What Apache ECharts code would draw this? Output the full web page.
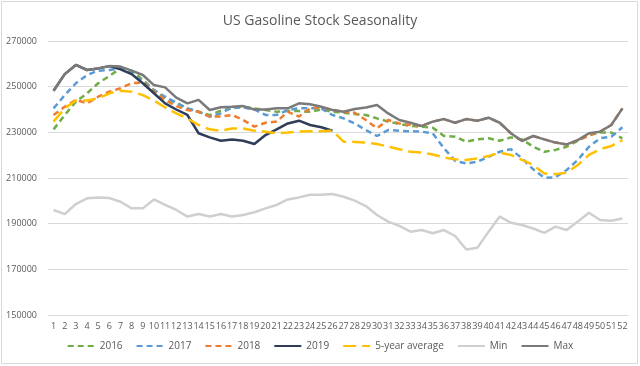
<!DOCTYPE html>
<html>
<head>
<meta charset="utf-8">
<script src="https://cdn.jsdelivr.net/npm/echarts@6/dist/echarts.min.js"></script>
<style>html,body{margin:0;padding:0;background:#fff;}#c{width:640px;height:366px;}</style>
</head>
<body>
<div id="c"></div>
<script>
const weeks = Array.from({length: 52}, (_, i) => String(i + 1));
const yTicks = [150000, 170000, 190000, 210000, 230000, 250000, 270000];

const y2016 = [231300,237600,243400,247100,251500,254700,258000,257000,253000,248500,245000,243000,240500,239000,237500,239500,240500,241200,240500,239800,239000,239300,239300,239000,240000,239000,238600,238000,237600,236100,234700,233600,232800,232500,232000,228400,228100,225900,226900,227400,226300,227800,226900,223700,221500,222300,223700,226300,228800,229900,229900,227400];
const y2017 = [240500,246300,251500,255100,257000,257300,258000,255800,252200,248500,245600,243000,240500,239000,236900,238300,240900,240900,240000,237600,237600,239800,240500,240500,240500,237600,236100,233900,231000,228400,231000,230700,230500,230300,229500,223000,217500,216400,217100,219300,221500,222600,218600,213800,210100,210300,213500,217900,223700,227400,228100,232200];
const y2018 = [237600,241200,244200,242700,245600,247800,249300,251500,251800,247800,244200,241500,239800,239000,236900,236900,237600,235400,232500,234200,234700,239000,236900,240500,240900,239800,239000,238600,235400,231800,235400,233900,233200,232800,234700,235800,234200,235800,235100,236400,234200,229600,226200,228400,226900,225500,224700,226600,228600,230300,233200,240500];
const y2019 = [248200,255500,259500,257300,258000,259000,257600,255500,251500,247100,242700,240000,237600,229600,227800,226300,226900,226300,224900,228800,231300,233900,235100,233200,232200,230700];
const avg5 = [234700,240500,243900,243900,244900,247100,248200,247800,246300,243900,240900,238300,236100,233200,231300,230700,231700,231700,230700,230300,229600,229900,230300,230500,230500,230700,225900,225800,225500,224900,223700,222600,221500,221100,220300,219000,218200,217900,218600,219600,221100,220100,217900,215700,212000,211700,212300,215700,220100,222600,224000,226600];
const minS = [196000,194200,198600,201100,201500,201200,199600,196700,196700,200600,198200,196000,193100,194200,193100,194200,193100,193800,195000,196700,198200,200600,201500,202700,202700,203000,201800,200100,197700,193800,190900,189000,186500,187200,185800,187200,184600,178700,179500,186500,193100,190400,189400,187900,186000,188700,187200,190900,194800,191600,191300,192300];
const maxS = [248200,255500,259500,257300,258000,259000,258800,257000,255100,250700,249700,245200,242700,244200,239800,241000,241200,241500,240000,240000,240500,240500,242700,242300,241200,239800,239000,240200,240900,242000,238300,235400,234200,232800,234700,235800,234200,235800,235100,236400,234200,229600,226200,228400,226900,225500,224700,226600,229600,230300,233200,240500];

const FONT = '"Open Sans", "Liberation Sans", sans-serif';
const TXT = '#595959';

function line(name, data, color, type, width) {
  return {
    name, type: 'line', data, symbol: 'none', smooth: false,
    lineStyle: {color, width: width || 2.5, type: type || 'solid', cap: 'butt'},
    itemStyle: {color},
    emphasis: {disabled: true}
  };
}

const chart = echarts.init(document.getElementById('c'), null, {renderer: 'canvas'});
chart.setOption({
  animation: false,
  backgroundColor: '#fff',
  title: {
    text: 'US Gasoline Stock Seasonality', left: 'center', top: 9,
    textStyle: {fontFamily: FONT, fontSize: 14, fontWeight: 'normal', color: TXT}
  },
  grid: {left: 48, right: 12, top: 41, bottom: 51, containLabel: false},
  legend: {
    bottom: 10, left: 'center', itemWidth: 27, itemHeight: 8, itemGap: 13,
    itemStyle: {opacity: 0},
    textStyle: {fontFamily: FONT, fontSize: 10, color: TXT},
    data: ['2016', '2017', '2018', '2019', '5-year average', 'Min', 'Max']
  },
  xAxis: {
    type: 'category', data: weeks, boundaryGap: true,
    axisLine: {show: true, lineStyle: {color: '#D9D9D9', width: 1}},
    axisTick: {show: false},
    axisLabel: {interval: 0, fontFamily: FONT, fontSize: 9, color: TXT, margin: 7}
  },
  yAxis: {
    type: 'value', min: yTicks[0], max: yTicks[yTicks.length - 1], interval: 20000,
    axisLine: {show: false}, axisTick: {show: false},
    splitLine: {lineStyle: {color: '#D9D9D9', width: 1}},
    axisLabel: {fontFamily: FONT, fontSize: 9, color: TXT, margin: 11, formatter: v => String(v)}
  },
  series: [
    line('2016', y2016, '#70AD47', [6, 4]),
    line('2017', y2017, '#5B9BD5', [6, 4]),
    line('2018', y2018, '#ED7D31', [6, 4]),
    line('2019', y2019, '#2F3D58', 'solid'),
    line('5-year average', avg5, '#FFC000', [13, 6]),
    line('Min', minS, '#CFCFCF', 'solid'),
    line('Max', maxS, '#7A7A7A', 'solid')
  ],
  graphic: [{
    type: 'rect', z: -1, silent: true,
    shape: {x: 1.5, y: 1.5, width: 636, height: 362},
    style: {fill: 'none', stroke: '#D9D9D9', lineWidth: 1}
  }]
});
</script>
</body>
</html>
